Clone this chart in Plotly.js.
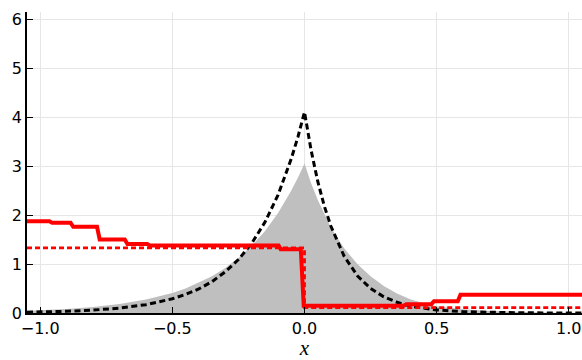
<!DOCTYPE html>
<html>
<head>
<meta charset="utf-8">
<script src="https://cdn.plot.ly/plotly-3.0.1.min.js"></script>
<style>html,body{margin:0;padding:0;background:#fff;}#chart{width:582px;height:360px;}</style>
</head>
<body>
<div id="chart"></div>
<script>
// Grey filled density
const fillX = [-1.05, -1.0, -0.9, -0.8, -0.7, -0.6, -0.5, -0.45, -0.4, -0.35, -0.3, -0.25, -0.2, -0.15, -0.1, -0.05, -0.025, 0,
               0.025, 0.05, 0.1, 0.15, 0.2, 0.25, 0.3, 0.35, 0.4, 0.45, 0.5, 0.6, 0.7, 0.8, 0.9, 1.0, 1.05];
const fillY = [0.046, 0.056, 0.083, 0.124, 0.185, 0.277, 0.41, 0.50, 0.62, 0.75, 0.92, 1.12, 1.37, 1.67, 2.04, 2.50, 2.76, 3.05,
               2.65, 2.31, 1.74, 1.32, 1.00, 0.75, 0.55, 0.40, 0.28, 0.20, 0.14, 0.075, 0.04, 0.02, 0.01, 0.005, 0.004];

// Black dashed curve
const dashX = [-1.05, -1.0, -0.9, -0.8, -0.7, -0.6, -0.5, -0.45, -0.4, -0.35, -0.3, -0.25, -0.2, -0.15, -0.1, -0.05, -0.025, 0,
               0.025, 0.05, 0.075, 0.1, 0.15, 0.2, 0.25, 0.3, 0.35, 0.4, 0.45, 0.5, 0.6, 0.7, 0.8, 0.9, 1.0, 1.05];
const dashY = [0.016, 0.020, 0.035, 0.059, 0.10, 0.17, 0.29, 0.38, 0.49, 0.64, 0.84, 1.09, 1.42, 1.85, 2.41, 3.15, 3.59, 4.1,
               3.32, 2.69, 2.18, 1.77, 1.16, 0.76, 0.50, 0.33, 0.22, 0.14, 0.094, 0.062, 0.027, 0.011, 0.005, 0.002, 0.001, 0.001];

// Red dashed reference step
const refX = [-1.05, 0, 0, 1.05];
const refY = [1.33, 1.33, 0.11, 0.11];

// Red solid estimate step
const stepX = [-1.05, -0.965, -0.955, -0.885, -0.875, -0.785, -0.775, -0.68, -0.67, -0.595, -0.585, -0.098, -0.09, -0.014, -0.003,
               0.375, 0.385, 0.48, 0.49, 0.58, 0.59, 1.05];
const stepY = [1.87, 1.87, 1.84, 1.84, 1.76, 1.76, 1.50, 1.50, 1.41, 1.41, 1.38, 1.38, 1.30, 1.30, 0.15,
               0.15, 0.18, 0.18, 0.24, 0.24, 0.37, 0.37];

const xTicks = [-1.0, -0.5, 0.0, 0.5, 1.0];
const xTickText = ['\u22121.0', '\u22120.5', '0.0', '0.5', '1.0'];
const yTicks = [0, 1, 2, 3, 4, 5, 6];
const yTickText = ['0', '1', '2', '3', '4', '5', '6'];

const traces = [
  {x: fillX, y: fillY, mode: 'lines', fill: 'tozeroy', fillcolor: '#bfbfbf', line: {width: 0, color: '#bfbfbf'}, hoverinfo: 'skip'},
  {x: dashX, y: dashY, mode: 'lines', line: {color: '#000000', width: 3, dash: '6px,3.5px'}},
  {x: stepX, y: stepY, mode: 'lines', line: {color: '#ff0000', width: 4}},
  {x: refX, y: refY, mode: 'lines', line: {color: '#ff0000', width: 2.8, dash: '5px,3px'}}
];

const layout = {
  width: 582, height: 360,
  margin: {l: 27, r: 0, t: 12, b: 47},
  paper_bgcolor: '#ffffff', plot_bgcolor: '#ffffff',
  showlegend: false,
  font: {family: 'DejaVu Sans', size: 16, color: '#000'},
  xaxis: {
    range: [-1.05, 1.05], tickvals: xTicks, ticktext: xTickText,
    showgrid: true, gridcolor: '#e6e6e6', gridwidth: 1, zeroline: false,
    showline: true, linecolor: '#000', linewidth: 1.8,
    ticks: 'inside', ticklen: 6, tickwidth: 1, tickcolor: '#000',
    tickfont: {family: 'DejaVu Sans', size: 16, color: '#000'},
    title: {text: 'x', font: {family: 'Liberation Serif', size: 21, color: '#000', style: 'italic'}, standoff: 6}
  },
  yaxis: {
    range: [0, 6.143], tickvals: yTicks, ticktext: yTickText,
    showgrid: true, gridcolor: '#e6e6e6', gridwidth: 1, zeroline: false,
    showline: true, linecolor: '#000', linewidth: 1.8,
    ticks: 'inside', ticklen: 6, tickwidth: 1, tickcolor: '#000',
    tickfont: {family: 'DejaVu Sans', size: 16, color: '#000'}
  }
};

Plotly.newPlot('chart', traces, layout, {staticPlot: true, displayModeBar: false});
</script>
</body>
</html>
